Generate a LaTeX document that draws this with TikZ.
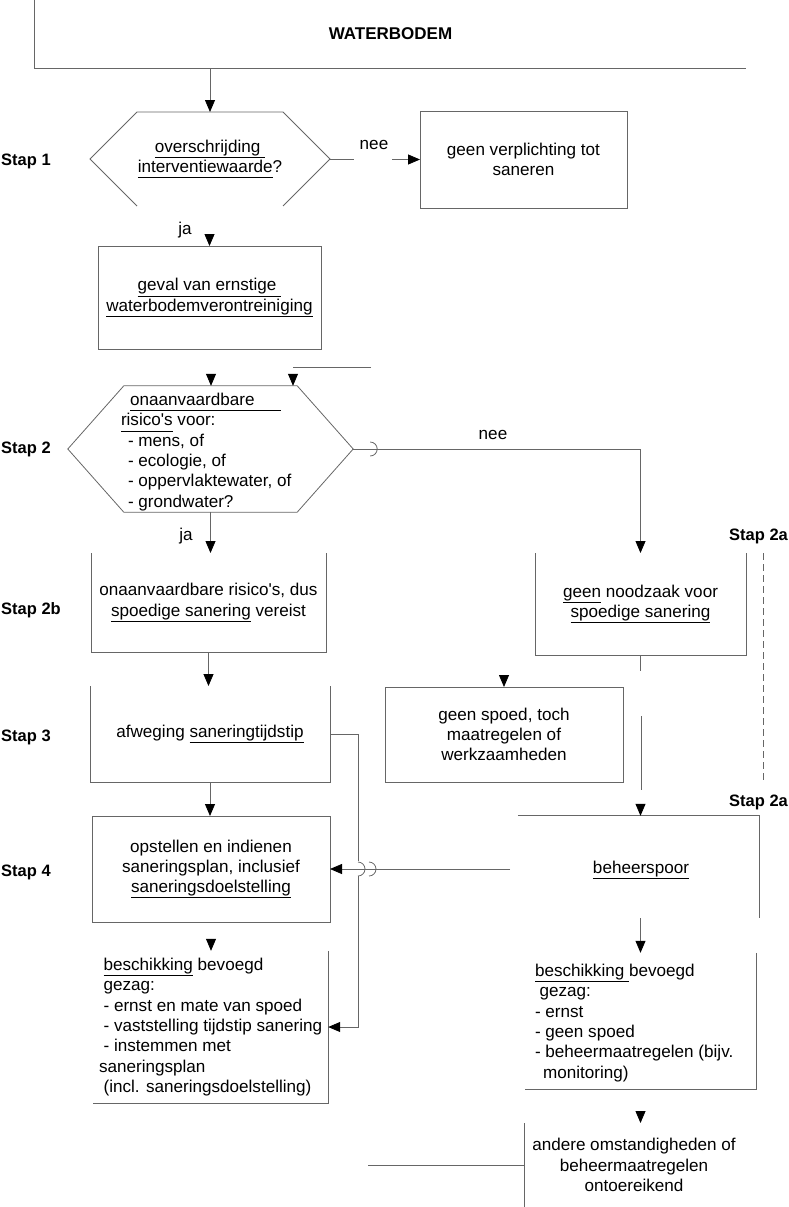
\documentclass[tikz,border=0pt]{standalone}
\usepackage{fontspec}
\setmainfont{Liberation Sans}
\usetikzlibrary{arrows.meta,calc}
\newcommand{\uln}[1]{\underline{#1\vphantom{g}}}
\newcommand{\sq}{\textquotesingle}
\tikzset{
  ln/.style={draw=black!60, line width=0.8pt},
  arr/.style={ln, -{Triangle[width=10pt,length=12pt,color=black]}},
  txt/.style={inner sep=0pt, outer sep=0pt, align=center, font=\fontsize{17.1pt}{20.3pt}\selectfont},
  ltxt/.style={txt, align=left, anchor=west},
  boxd/.style={draw=black!60, line width=0.8pt},
  stap/.style={inner sep=0pt, anchor=west, font=\fontsize{16.5pt}{20pt}\selectfont\bfseries},
}
\begin{document}
\begin{tikzpicture}[x=1pt,y=-1pt]
\useasboundingbox (0,0) rectangle (789,1207);

% top
\node[inner sep=0pt, minimum width=711pt, minimum height=68pt, font=\fontsize{17pt}{20pt}\selectfont\bfseries] (top) at (390.5,34) {WATERBODEM};
\draw[ln] (top.north west) -- (top.south west) -- (top.south east);

% step labels
\node[stap] (s1) at (1,161) {Stap 1};
\node[stap] (s2) at (1,449) {Stap 2};
\node[stap] (s2b) at (1,610) {Stap 2b};
\node[stap] (s3) at (1,737) {Stap 3};
\node[stap] (s4) at (1,872) {Stap 4};
\node[stap] (s2a) at (729,536) {Stap 2a};
\node[stap] (s2a2) at (729,802) {Stap 2a};

% hexagon 1
\node[txt, minimum width=240pt, minimum height=94pt] (q1) at (210,159) {\uln{overschrijding\ }\\\uln{interventiewaarde}?};
\draw[ln] ($(q1.south west)+(47,0)$) -- (q1.west) -- ($(q1.north west)+(47,0)$) -- ($(q1.north east)+(-47,0)$) -- (q1.east) -- ($(q1.south east)+(-47,0)$);
\draw[arr] (q1.north |- top.south) -- (q1.north);

% nee box
\node[boxd, txt, minimum width=207pt, minimum height=97pt] (n1) at (523.5,159.5) {geen verplichting tot\\saneren};
\draw[ln] (q1.east) -- ++(24,0);
\draw[arr] ($(n1.west)+(-28,0)$) -- (n1.west);
\node[txt] (nee1) at (374,145) {nee};

% geval
\node[txt] (ja1) at (185,230) {ja};
\node[boxd, txt, minimum width=223pt, minimum height=103pt] (g) at (209.5,297.5) {\uln{geval van ernstige\ }\\\uln{waterbodemverontreiniging}};
\draw[arr] ($(g.north)+(0,-12)$) -- (g.north);

% hexagon 2
\node[inner sep=0pt, minimum width=285pt, minimum height=126pt] (q2) at (210.5,449) {};
\draw[ln] (q2.west) -- ($(q2.north west)+(56,0)$) -- ($(q2.north east)+(-56,0)$) -- (q2.east) -- ($(q2.south east)+(-56,0)$) -- ($(q2.south west)+(56,0)$) -- cycle;
\node[ltxt] (q2t) at (121,452) {\hspace*{9pt}\uln{onaanvaardbare\hspace*{26pt}}\\
\uln{risico\sq s} voor:\\
\hspace*{7pt}- mens, of\\
\hspace*{7pt}- ecologie, of\\
\hspace*{7pt}- oppervlaktewater, of\\
\hspace*{7pt}- grondwater?};
\coordinate (a2) at (211,374);
\draw[arr] (a2) -- (a2 |- q2.north);
\coordinate (l2a) at (371,367);
\coordinate (l2b) at (293,367);
\draw[ln] (l2a) -- (l2b);
\coordinate (a2b) at (293,374);
\draw[arr] (a2b) -- (a2b |- q2.north);

% geen noodzaak
\node[txt, minimum width=211pt, minimum height=102pt] (nz) at (640.5,604) {\uln{geen} noodzaak voor\\\uln{spoedige sanering}};
\draw[ln] (nz.north west) -- (nz.south west) -- (nz.south east) -- (nz.north east);
\draw[arr] (q2.east) -- (q2.east -| nz.north) -- (nz.north);
\draw[ln] ($(q2.east)+(17,-7)$) arc[start angle=90, end angle=-90, radius=7pt];
\node[txt] (nee2) at (493,435) {nee};
\node[txt] (ja2) at (186,536) {ja};

% box 2b
\node[txt, minimum width=235pt, minimum height=99pt] (b2) at (208.5,602.5) {onaanvaardbare risico\sq s, dus\\\uln{spoedige sanering} vereist};
\draw[ln] (b2.north west) -- (b2.south west) -- (b2.south east) -- (b2.north east);
\draw[arr] (q2.south) -- (q2.south |- b2.north);

% afweging
\node[txt, minimum width=240pt, minimum height=96pt] (af) at (210,734) {afweging \uln{saneringtijdstip}};
\draw[ln] (af.north west) -- (af.south west) -- (af.south east) -- (af.north east);
\draw[arr] (b2.south) -- (b2.south |- af.north);

% geen spoed
\node[boxd, txt, minimum width=238pt, minimum height=95pt] (gs) at (504,734.5) {geen spoed, toch\\maatregelen of\\werkzaamheden};
\draw[arr] ($(gs.north)+(0,-12)$) -- (gs.north);

% right column stubs
\draw[ln] (nz.south) -- ++(0,16);
\coordinate (v1) at (641,716);
\coordinate (v2) at (641,790);
\draw[ln] (v1) -- (v2);
\coordinate (d1) at (763,553);
\coordinate (d2) at (763,783);
\draw[ln, dash pattern=on 7pt off 4pt] (d1) -- (d2);

% beheerspoor
\node[inner sep=0pt, minimum width=241pt, minimum height=102pt] (bh) at (638.5,867) {};
\node[txt] (bht) at (641,870) {\uln{beheerspoor}};
\draw[ln] (bh.north west) -- (bh.north east) -- (bh.south east);
\draw[arr] ($(nz.south |- bh.north)+(0,-12)$) -- (nz.south |- bh.north);

% opstellen
\node[boxd, txt, minimum width=238pt, minimum height=106pt] (op) at (211,869) {opstellen en indienen\\saneringsplan, inclusief\\\uln{saneringsdoelstelling}};
\draw[arr] (af.south) -- (af.south |- op.north);
\coordinate (bs) at (510,869);
\draw[arr] (bs) -- (op.east);
\draw[ln] (358,862) arc[start angle=90, end angle=-90, radius=7pt];
\draw[ln] (369,862) arc[start angle=90, end angle=-90, radius=7pt];

% left beschikking
\node[inner sep=0pt, minimum width=235pt, minimum height=152pt] (bl) at (210.5,1027) {};
\draw[ln] (bl.north east) -- (bl.south east) -- (bl.south west);
\node[ltxt] (blt) at (99,1027) {\hspace*{4.6pt}\uln{beschikking} bevoegd\\
\hspace*{4.6pt}gezag:\\
\hspace*{4.6pt}- ernst en mate van spoed\\
\hspace*{4.6pt}- vaststelling tijdstip sanering\\
\hspace*{4.6pt}- instemmen met\\
saneringsplan\\
\hspace*{4.6pt}(incl. saneringsdoelstelling)};
\draw[arr] ($(op.south |- bl.north)+(0,-12)$) -- (op.south |- bl.north);
\coordinate (h1) at (358,861);
\coordinate (h2) at (358,876);
\draw[ln] (af.east) -- (af.east -| h1) -- (h1);
\draw[arr] (h2) -- (h2 |- bl.east) -- (bl.east);

% right beschikking
\node[inner sep=0pt, minimum width=231pt, minimum height=136pt] (br) at (640.5,1021) {};
\draw[ln] (br.north east) -- (br.south east) -- (br.south west);
\node[ltxt] (brt) at (535,1023) {\uln{beschikking\ }bevoegd\\
\hspace*{4.6pt}gezag:\\
- ernst\\
- geen spoed\\
- beheermaatregelen (bijv.\\
\hspace*{8pt}monitoring)};
\draw[arr] (nz.south |- bh.south) -- (nz.south |- br.north);

% andere omstandigheden
\node[txt, minimum width=220pt, minimum height=84pt] (an) at (634,1165) {andere omstandigheden of\\beheermaatregelen\\ontoereikend};
\draw[ln] (an.north west) -- (an.south west);
\draw[arr] ($(nz.south |- an.north)+(0,-12)$) -- (nz.south |- an.north);
\coordinate (lf) at (368,1165);
\draw[ln] (lf) -- (an.west);
\end{tikzpicture}
\end{document}
